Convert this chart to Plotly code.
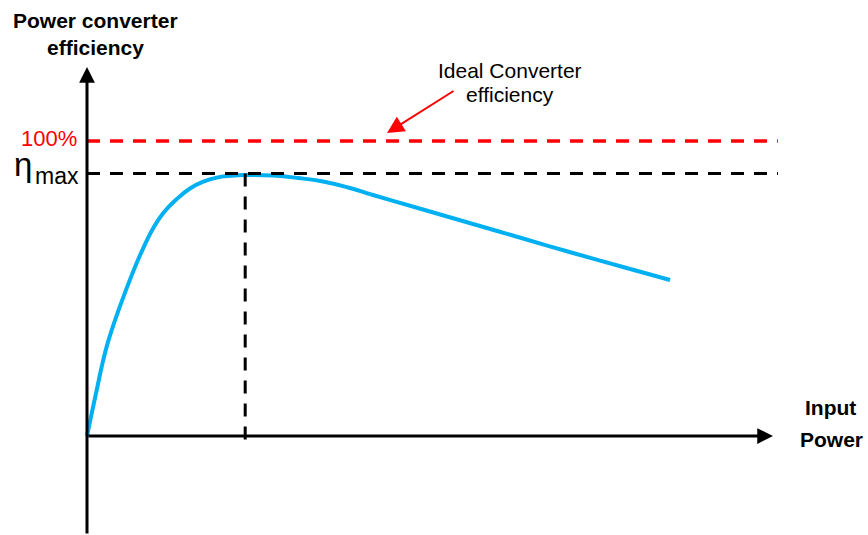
import plotly.graph_objects as go

# ---- data ----
input_power = [0, 0.067, 0.139, 0.21, 0.281, 0.353, 0.447, 0.543, 0.686, 0.804, 0.947,
               1.09, 1.281, 1.471, 1.661, 1.853, 2.043, 2.257, 2.657, 3.014, 3.371,
               3.729, 4.086, 4.80, 5.514, 6.229, 6.943, 7.657, 8.329]
efficiency = [0, 7.7, 15.6, 23.5, 30.3, 35.9, 42.4, 48.6, 57.3, 63.7, 70.5,
              75.6, 80.3, 83.9, 86.2, 87.6, 88.2, 88.5, 88.27, 87.46, 86.27,
              84.24, 81.69, 76.78, 71.86, 66.95, 62.03, 57.29, 52.88]
ideal_eff = 100.0
eta_max = 89.0
p_at_max = 2.26
ref_line_end = 9.87      # where the dashed reference lines stop
x_axis_end = 9.80        # x-axis arrow tip
y_axis_top = 125.1       # y-axis arrow tip

W, H = 868, 535
X_RANGE = [-1.2429, 11.1571]
Y_RANGE = [-33.56, 147.80]


def px(xp):
    return xp / W


def py(yp):
    return 1 - yp / H


FONT = "Liberation Sans, Arial, sans-serif"

fig = go.Figure()

# efficiency curve
fig.add_trace(go.Scatter(
    x=input_power, y=efficiency, mode="lines",
    line=dict(color="#00B0F0", width=4, shape="spline", smoothing=1.3),
    hoverinfo="skip", showlegend=False))

shapes = [
    dict(type="line", xref="x", yref="y", x0=0, x1=ref_line_end, y0=ideal_eff, y1=ideal_eff,
         line=dict(color="#FF0000", width=3.3, dash="13px,10px")),
    dict(type="line", xref="x", yref="y", x0=0, x1=ref_line_end, y0=eta_max, y1=eta_max,
         line=dict(color="#000000", width=3, dash="13px,10px")),
    dict(type="line", xref="x", yref="y", x0=p_at_max, x1=p_at_max, y0=eta_max, y1=-2.4,
         line=dict(color="#000000", width=3, dash="13px,10px")),
]

annotations = [
    # y axis with arrow
    dict(x=0, y=y_axis_top, xref="x", yref="y", ax=0, ay=Y_RANGE[0], axref="x", ayref="y",
         showarrow=True, arrowhead=2, arrowsize=1.05, arrowwidth=3, arrowcolor="#000000", text=""),
    # x axis with arrow
    dict(x=x_axis_end, y=0, xref="x", yref="y", ax=0, ay=0, axref="x", ayref="y",
         showarrow=True, arrowhead=2, arrowsize=1.05, arrowwidth=3, arrowcolor="#000000", text=""),
    # pointer to ideal line
    dict(x=4.286, y=102.7, xref="x", yref="y", ax=68, ay=-43,
         showarrow=True, arrowhead=2, arrowsize=1.7, arrowwidth=2, arrowcolor="#FF0000", text=""),
]

texts = [
    ("Power converter", 95, 20, 21, True, "#000000", "center"),
    ("efficiency", 95, 48, 21, True, "#000000", "center"),
    ("Input", 830.5, 407, 21, True, "#000000", "center"),
    ("Power", 831, 439, 21, True, "#000000", "center"),
    ("Ideal Converter", 509.5, 70, 21, False, "#000000", "center"),
    ("efficiency", 509.5, 94, 21, False, "#000000", "center"),
    ("100%", 78, 138, 22, False, "#FF0000", "right"),
    ("max", 34, 176, 23, False, "#000000", "left"),
    ("η", 33, 164, 33, False, "#000000", "right"),
]
for t, xp, yp, fs, bold, col, anc in texts:
    annotations.append(dict(
        text=f"<b>{t}</b>" if bold else t,
        x=px(xp), y=py(yp), xref="paper", yref="paper",
        xanchor=anc, yanchor="middle", showarrow=False, borderpad=0,
        font=dict(family=FONT, size=fs, color=col)))

fig.update_layout(
    width=W, height=H,
    margin=dict(l=0, r=0, t=0, b=0),
    paper_bgcolor="white", plot_bgcolor="white",
    xaxis=dict(range=X_RANGE, visible=False, fixedrange=True),
    yaxis=dict(range=Y_RANGE, visible=False, fixedrange=True),
    shapes=shapes, annotations=annotations,
    showlegend=False,
)

fig.write_html(
    "out.html",
    config={"displayModeBar": False},
    post_script="document.body.style.margin='0';document.body.style.overflow='hidden';",
)
